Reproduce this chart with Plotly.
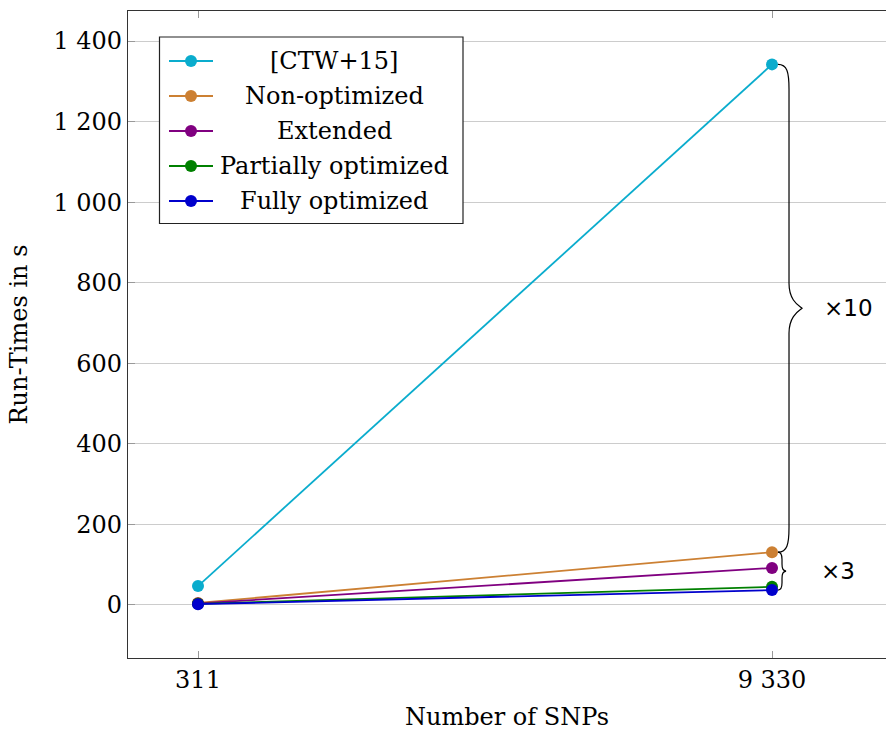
import plotly.graph_objects as go

# Run-times for the two data set sizes
snps = [311, 9330]
series_names = ["[CTW+15]", "Non-optimized", "Extended", "Partially optimized", "Fully optimized"]
ctw15 = [47, 1342]
non_optimized = [5, 131]
extended = [4, 92]
partially_optimized = [3, 45]
fully_optimized = [2, 37]
series_values = [ctw15, non_optimized, extended, partially_optimized, fully_optimized]
series_colors = ["#0aaccd", "#cc8033", "#800080", "#008000", "#0000cc"]

y_tickvals = [0, 200, 400, 600, 800, 1000, 1200, 1400]
y_ticktext = ["0", "200", "400", "600", "800", "1 000", "1 200", "1 400"]
x_ticktext = ["311", "9 330"]
brace_labels = ["\u00d710", "\u00d73"]

SERIF = "DejaVu Serif"
FS = 24
W, H = 886, 731
ML, MR, MT, MB = 128, 0, 11, 73

fig = go.Figure()
for name, vals, col in zip(series_names, series_values, series_colors):
    fig.add_trace(go.Scatter(
        x=snps, y=vals, name=name, mode="lines+markers",
        line=dict(color=col, width=1.8),
        marker=dict(color=col, size=12),
        showlegend=False,
    ))

x_range = [-789, 11121]
y_range = [-131.6, 1474.5]

fig.update_layout(
    width=W, height=H,
    margin=dict(l=ML, r=MR, t=MT, b=MB),
    paper_bgcolor="white", plot_bgcolor="white",
    font=dict(family=SERIF, size=FS, color="black"),
    xaxis=dict(
        range=x_range, tickvals=snps, ticktext=x_ticktext,
        showgrid=False, zeroline=False,
        showline=True, linecolor="#333333", linewidth=1.2, mirror="allticks",
        ticks="inside", ticklen=7, tickcolor="#999999", tickwidth=1,
        title=dict(text="Number of SNPs", standoff=16, font=dict(size=FS)),
        tickfont=dict(size=FS),
    ),
    yaxis=dict(
        range=y_range, tickvals=y_tickvals, ticktext=y_ticktext,
        showgrid=True, gridcolor="#cccccc", gridwidth=1, zeroline=False,
        showline=True, linecolor="#333333", linewidth=1.2, mirror=False,
        ticks="inside", ticklen=7, tickcolor="#999999", tickwidth=1,
        title=dict(text="Run-Times in s", standoff=18, font=dict(size=FS)),
        tickfont=dict(size=FS),
    ),
)

# Hand-built legend with centred entry text
pw = W - ML - MR
ph = H - MT - MB


def px_x(px):
    return (px - ML) / pw


def px_y(py):
    return 1 - (py - MT) / ph


fig.add_shape(type="rect", xref="paper", yref="paper",
              x0=px_x(159.5), x1=px_x(463), y0=px_y(37), y1=px_y(223.5),
              line=dict(color="#222222", width=1.2), fillcolor="white", layer="above")
row_y = [61, 96, 131, 166, 201]
for name, col, ry in zip(series_names, series_colors, row_y):
    fig.add_shape(type="line", xref="paper", yref="paper",
                  x0=px_x(169), x1=px_x(213), y0=px_y(ry), y1=px_y(ry),
                  line=dict(color=col, width=1.8), layer="above")
    fig.add_shape(type="circle", xref="paper", yref="paper",
                  x0=px_x(185), x1=px_x(197), y0=px_y(ry - 6), y1=px_y(ry + 6),
                  line=dict(color=col, width=0), fillcolor=col, layer="above")
    fig.add_annotation(xref="paper", yref="paper", x=px_x(334), y=px_y(ry),
                       text=name, showarrow=False, xanchor="center", yanchor="middle",
                       font=dict(family=SERIF, size=FS, color="black"))


# Curly braces beside the 9 330 points, x offsets in pixels, y in data units
def brace(y_top, y_bot, x_in, x_line, x_tip, curl):
    mid = (y_top + y_bot) / 2
    return (f"M {x_in},{y_top} C {x_line - 2},{y_top} {x_line},{y_top - curl * 0.3} {x_line},{y_top - curl} "
            f"L {x_line},{mid + curl} C {x_line},{mid + curl * 0.3} {x_tip - 3},{mid + curl * 0.1} {x_tip},{mid} "
            f"C {x_tip - 3},{mid - curl * 0.1} {x_line},{mid - curl * 0.3} {x_line},{mid - curl} "
            f"L {x_line},{y_bot + curl} C {x_line},{y_bot + curl * 0.3} {x_line - 2},{y_bot} {x_in},{y_bot}")


for top, bot, xl, xt, curl in [(ctw15[1], non_optimized[1], 17, 30, 62),
                               (non_optimized[1], fully_optimized[1], 10, 14, 18)]:
    fig.add_shape(type="path", xref="x", yref="y", xsizemode="pixel", xanchor=snps[1],
                  path=brace(top, bot, 6, xl, xt, curl),
                  line=dict(color="black", width=1.2), layer="above")

fig.add_annotation(x=snps[1], y=(ctw15[1] + non_optimized[1]) / 2, xref="x", yref="y",
                   text=brace_labels[0], showarrow=False, xanchor="center", xshift=76,
                   font=dict(family="DejaVu Sans", size=23, color="black"))
fig.add_annotation(x=snps[1], y=(non_optimized[1] + fully_optimized[1]) / 2, xref="x", yref="y",
                   text=brace_labels[1], showarrow=False, xanchor="center", xshift=66,
                   font=dict(family="DejaVu Sans", size=23, color="black"))

fig.write_html("out.html")
